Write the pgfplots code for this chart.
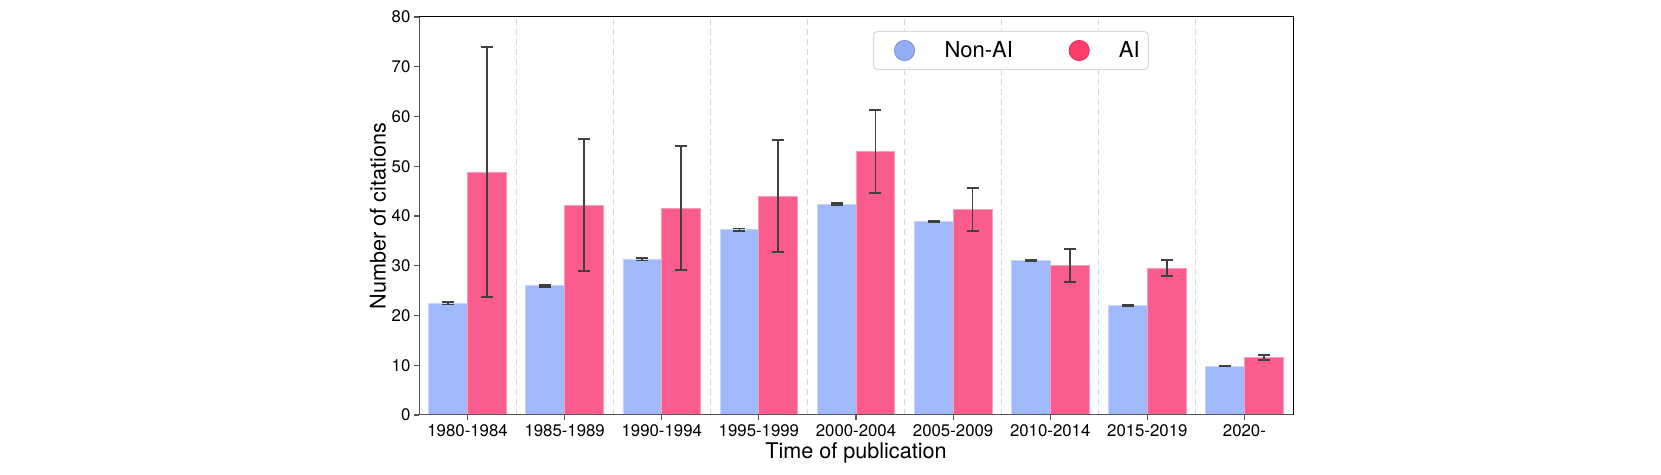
\documentclass[border=0pt]{standalone}
\usepackage{pgfplots}
\pgfplotsset{compat=1.18}
\usepackage{pgfplotstable}
\usepackage{fontspec}
\setmainfont{TeX Gyre Heros}

\definecolor{barblue}{HTML}{A0B9FB}
\definecolor{barred}{HTML}{F95C8D}
\definecolor{legblue}{HTML}{94AEF6}
\definecolor{legred}{HTML}{FE3D6B}
\definecolor{errc}{HTML}{404040}
\definecolor{gridc}{HTML}{D5D8D8}
\definecolor{spine}{HTML}{555555}

\pgfplotstableread{
x y ep em
-0.2 22.45 0.25 0.25
0.8 25.95 0.25 0.25
1.8 31.30 0.25 0.25
2.8 37.25 0.25 0.25
3.8 42.35 0.20 0.20
4.8 38.86 0.15 0.15
5.8 31.02 0.12 0.12
6.8 21.97 0.08 0.08
7.8 9.80 0.06 0.06
}\nonai

\pgfplotstableread{
x y ep em
0.2 48.80 25.20 25.14
1.2 42.07 13.33 13.17
2.2 41.50 12.50 12.40
3.2 43.96 11.24 11.26
4.2 52.90 8.35 8.30
5.2 41.27 4.30 4.22
6.2 30.00 3.30 3.20
7.2 29.50 1.70 1.60
8.2 11.50 0.55 0.50
}\ai

\begin{document}
\begin{tikzpicture}[x=1pt,y=1pt]
\path (0,0) rectangle (830.5,237.5);
\begin{axis}[
  at={(209.5pt,30pt)}, anchor=south west,
  scale only axis, width=437pt, height=199pt,
  xmin=-0.5, xmax=8.5, ymin=0, ymax=80,
  xtick={0,...,8},
  xticklabels={1980-1984,1985-1989,1990-1994,1995-1999,2000-2004,2005-2009,2010-2014,2015-2019,2020-},
  ytick={0,10,...,80},
  minor xtick={0.5,1.5,...,7.5},
  xminorgrids,
  minor grid style={gridc, line width=0.6pt, dash pattern=on 3pt off 2pt},
  minor tick length=0pt,
  tick align=outside, major tick length=2.5pt,
  tick style={spine, line width=0.6pt},
  xtick pos=left, ytick pos=left,
  axis line style={black, line width=0.5pt},
  tick label style={font=\fontsize{8.4}{10}\selectfont},
  /pgf/number format/assume math mode=true,
  xticklabel style={anchor=north, inner sep=0pt, yshift=-2pt},
  yticklabel style={anchor=east, inner sep=0pt, xshift=-1.6pt},
  xlabel={Time of publication},
  ylabel={Number of citations},
  label style={font=\fontsize{10.8}{13}\selectfont},
  xlabel style={at={(axis description cs:0.5,0)}, anchor=base, yshift=-21.65pt},
  ylabel style={at={(axis description cs:0,0.5)}, anchor=center, yshift=20.5pt},
  legend columns=2,
  legend style={at={(0.5195,0.9648)}, anchor=north west,
    draw=gridc, line width=0.5pt, rounded corners=2pt, fill=white,
    font=\fontsize{11}{13}\selectfont,
    inner xsep=0pt, inner ysep=0pt,
    nodes={inner xsep=0pt, inner ysep=0pt, draw=none, text=black}},
]
\addplot[ybar, bar width=0.4, bar shift=0pt, fill=barblue, draw=barblue!60!white, line width=0.4pt, forget plot,
  error bars/.cd, y dir=both, y explicit,
  error bar style={errc, line width=0.9pt},
  error mark options={rotate=90, mark size=3pt, errc, line width=0.9pt}]
  table[x=x, y=y, y error plus=ep, y error minus=em]{\nonai};
\addplot[ybar, bar width=0.4, bar shift=0pt, fill=barred, draw=barred!60!white, line width=0.4pt, forget plot,
  error bars/.cd, y dir=both, y explicit,
  error bar style={errc, line width=0.9pt},
  error mark options={rotate=90, mark size=3pt, errc, line width=0.9pt}]
  table[x=x, y=y, y error plus=ep, y error minus=em]{\ai};
\draw[spine, line width=0.9pt] (rel axis cs:0,1) -- (rel axis cs:0,0) -- (rel axis cs:1,0);
\addlegendimage{legend image code/.code={\path[draw=none,fill=none] (-15.5pt,-9.5pt) rectangle (20pt,9.5pt); \fill[legblue] (0,0) circle (5pt); \draw[legblue!80!black, line width=0.3pt] (0,0) circle (5pt);}}
\addlegendentry{Non-AI}
\addlegendimage{legend image code/.code={\path[draw=none,fill=none] (-33.15pt,-9.5pt) rectangle (19.85pt,9.5pt); \fill[legred] (0,0) circle (5pt); \draw[legred!85!black, line width=0.3pt] (0,0) circle (5pt);}}
\addlegendentry{AI\hspace*{4.3pt}}
\end{axis}
\end{tikzpicture}
\end{document}
